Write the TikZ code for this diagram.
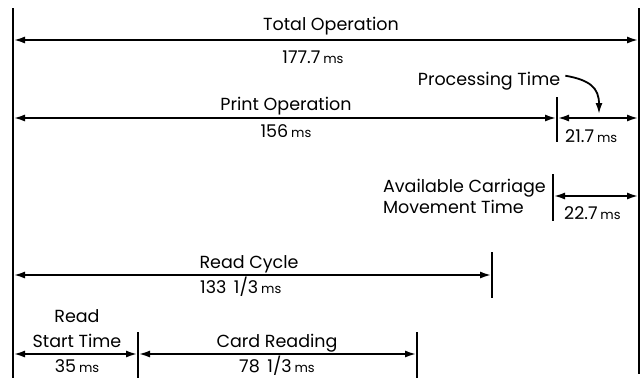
\documentclass[tikz,border=0pt]{standalone}
\usepackage{fontspec}
\setmainfont{Poppins}
\usetikzlibrary{arrows.meta, positioning}
\tikzset{
  span/.style={{Latex[length=12pt,width=7pt]}-{Latex[length=12pt,width=7pt]}, line width=2.6pt},
  limit/.style={line width=1.3pt},
  lbl/.style={inner sep=0pt, anchor=base, font=\fontsize{17.5}{20}\selectfont},
  pointer/.style={-{Latex[length=11pt,width=7pt]}, line width=1.8pt},
}
\newcommand{\ms}{{\fontsize{13}{15}\selectfont ms}}

\begin{document}
\begin{tikzpicture}[x=1pt, y=-1pt]
  \useasboundingbox (0,0) rectangle (644,378);
  % --- limit lines ---
  \coordinate (lt) at (13,8);
  \coordinate (lb) at (13,378);
  \coordinate (rt) at (639,8);
  \coordinate (rb) at (639,374);
  \draw[limit] (lt) -- (lb);
  \draw[limit] (rt) -- (rb);
  \coordinate (printT) at (557,97);
  \coordinate (printB) at (557,142);
  \draw[limit] (printT) -- (printB);
  \coordinate (carT) at (553,174);
  \coordinate (carB) at (553,221);
  \draw[limit] (carT) -- (carB);
  \coordinate (cycT) at (492,252);
  \coordinate (cycB) at (492,298);
  \draw[limit] (cycT) -- (cycB);
  \coordinate (startT) at (138,332);
  \coordinate (startB) at (138,378);
  \draw[limit] (startT) -- (startB);
  \coordinate (cardT) at (417,332);
  \coordinate (cardB) at (417,378);
  \draw[limit] (cardT) -- (cardB);

  % --- spans ---
  \coordinate (tot1) at (13,40);
  \coordinate (tot2) at (639,40);
  \coordinate (pr1) at (13,118);
  \coordinate (pr2) at (557,118);
  \coordinate (pt2) at (639,118);
  \coordinate (cm1) at (553,196);
  \coordinate (cm2) at (639,196);
  \coordinate (rc1) at (13,275);
  \coordinate (rc2) at (492,275);
  \coordinate (rs1) at (13,354);
  \coordinate (rs2) at (138,354);
  \coordinate (cr2) at (417,354);
  \draw[span] (tot1) -- (tot2);
  \draw[span] (pr1) -- (pr2);
  \draw[span] (pr2) -- (pt2);
  \draw[span] (cm1) -- (cm2);
  \draw[span] (rc1) -- (rc2);
  \draw[span] (rs1) -- (rs2);
  \draw[span] (rs2) -- (cr2);

  % --- labels ---
  \node (total) [lbl] at (331,30) {Total Operation};
  \node (totalms) [lbl] at (313,63) {177.7\,\ms};
  \node (print) [lbl] at (286,110) {Print Operation};
  \node (printms) [lbl] at (286,137) {156\,\ms};
  \node (proc) [lbl] at (489,85) {Processing Time};
  \node (procms) [lbl, anchor=base west] at (565,142) {21.7\,\ms};
  \node (avail) [lbl, anchor=base east] at (546,192) {Available Carriage};
  \node (move) [lbl, anchor=base west] at (avail.west |- 0,213) {Movement Time};
  \node (carms) [lbl, anchor=base west] at (564,219) {22.7\,\ms};
  \node (cycle) [lbl] at (249,268) {Read Cycle};
  \node (cyclems) [lbl, anchor=base west] at (200,293) {133\, 1/3\,\ms};
  \node (read) [lbl] at (77,322) {Read};
  \node (start) [lbl] at (77,347) {Start Time};
  \node (startms) [lbl] at (77,372) {35\,\ms};
  \node (card) [lbl] at (277,347) {Card Reading};
  \node (cardms) [lbl] at (277,372) {78\, 1/3\,\ms};

  % --- pointer ---
  \coordinate (ptip) at (599,114);
  \draw[pointer] ([xshift=5pt, yshift=5pt]proc.east) .. controls (590,80) and (599,88) .. (ptip);
\end{tikzpicture}
\end{document}
